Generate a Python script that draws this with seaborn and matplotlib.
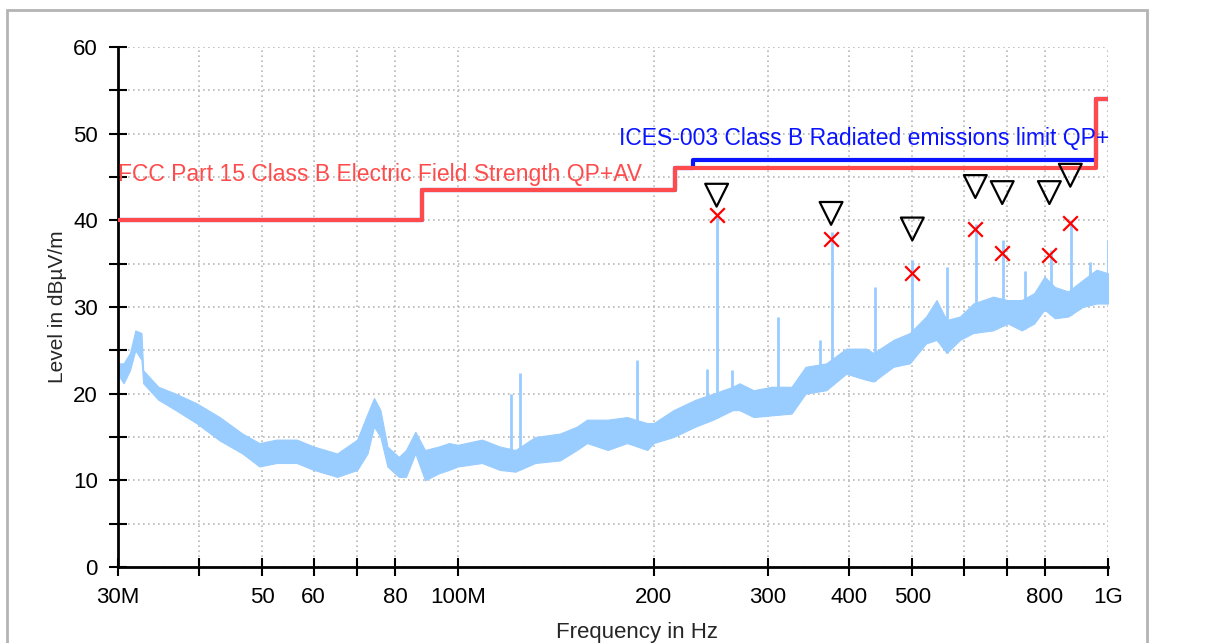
import numpy as np
import pandas as pd
import matplotlib
matplotlib.use("Agg")
import matplotlib.pyplot as plt
from matplotlib.patches import Rectangle
import seaborn as sns

# spectrum envelope (MHz, dBuV/m)
freq = [30, 30.6, 31.3, 31.9, 32.6, 32.8, 34.6, 36.8, 39.6, 43.0, 46.6, 49.5, 52.6, 56.5,
        60, 65.2, 70, 72.6, 74.3, 76, 77.9, 81.1, 83.2, 86, 89, 93.4, 96.9, 100, 108.9,
        116, 122.6, 131.5, 143.6, 152.4, 158, 170, 182, 195.6, 200, 214.6, 232, 247,
        264.7, 271, 285, 304, 326, 342.6, 368.7, 395.7, 424.7, 435.8, 467.6, 495.6, 525,
        544.8, 564.6, 592, 620.5, 665.6, 701, 736.6, 770, 798.5, 828.6, 868.7, 914, 960, 1000]
level_high = [23.5, 23.5, 24.7, 27.3, 27.0, 22.7, 20.8, 20.0, 18.9, 17.3, 15.4, 14.3, 14.7,
              14.7, 13.9, 13.1, 14.7, 17.7, 19.5, 18.1, 13.9, 12.7, 13.5, 15.6, 13.5, 13.9,
              14.3, 14.1, 14.7, 13.9, 13.5, 15.0, 15.4, 16.2, 17.0, 17.0, 17.3, 16.6, 16.6,
              18.1, 19.3, 20.0, 20.8, 21.2, 20.4, 20.8, 20.8, 23.1, 23.5, 25.2, 25.2, 24.7,
              26.2, 27.0, 28.9, 30.8, 28.5, 28.9, 30.4, 31.2, 30.8, 30.8, 31.6, 33.5, 32.3,
              31.8, 33.1, 34.3, 33.9]
level_low = [22.2, 21.2, 22.7, 25.0, 23.9, 21.2, 19.3, 18.1, 16.6, 14.6, 13.1, 11.6, 12.0,
             12.0, 11.2, 10.4, 11.2, 13.1, 16.2, 15.0, 11.6, 10.4, 10.4, 13.1, 10.0, 10.8,
             11.2, 11.6, 12.0, 11.2, 11.0, 12.0, 12.3, 13.5, 14.3, 13.5, 14.3, 13.5, 14.3,
             15.0, 16.2, 17.0, 18.1, 18.1, 17.3, 17.5, 17.7, 20.0, 20.4, 22.3, 21.6, 21.4,
             23.1, 23.5, 25.8, 26.2, 24.7, 26.2, 27.0, 27.3, 28.1, 27.3, 28.1, 29.7, 28.7,
             28.9, 30.0, 30.4, 30.4]

# narrow spurs standing above the noise
spur_freq = [120.5, 124.8, 188.6, 241.3, 250, 264, 311, 361, 376.5, 437.5, 500, 564.6, 626,
             689, 745, 817, 876, 939, 1000]
spur_top = [20.0, 22.4, 23.9, 22.9, 40.6, 22.7, 28.9, 26.2, 38.7, 32.3, 35.4, 34.6, 39.6,
            37.7, 34.1, 36.6, 40.0, 35.2, 37.7]

# final measurement markers
peak_freq = [250, 375, 500, 625, 687.5, 812.5, 875]
peak_level = [42.9, 40.8, 39.0, 43.9, 43.2, 43.2, 45.2]
final_level = [40.6, 37.8, 33.9, 39.0, 36.2, 36.0, 39.7]

# limit lines (step edges)
fcc_freq = [30, 88, 216, 960, 1000]
fcc_level = [40, 43.5, 46, 54, 54]
ices_freq = [30, 88, 216, 230, 960, 1000]
ices_level = [40, 43.5, 46, 47, 54, 54]

xticks = [30, 40, 50, 60, 70, 80, 100, 200, 300, 400, 500, 600, 700, 800, 1000]
xticklabels = ["30M", "", "50", "60", "", "80", "100M", "200", "300", "400", "500", "", "", "800", "1G"]

trace_c = "#99ccff"
red_c = "#ff4b4b"
blue_c = "#0a14ff"

sns.set_theme(style="white")
plt.rcParams["font.family"] = ["Liberation Sans", "DejaVu Sans"]

fig = plt.figure(figsize=(12.05, 6.43), dpi=100)
ax = fig.add_axes([118 / 1205, 76 / 643, 990 / 1205, 520 / 643])
ax.set_xscale("log")

# noise band + spurs
ax.fill_between(freq, level_low, level_high, color=trace_c, lw=0.8, edgecolor=trace_c, zorder=2)
spur_base = np.interp(np.log10(spur_freq), np.log10(freq), level_low)
ax.vlines(spur_freq, spur_base, spur_top, color=trace_c, lw=2, zorder=2)

ices = pd.DataFrame({"f": ices_freq, "v": ices_level})
fcc = pd.DataFrame({"f": fcc_freq, "v": fcc_level})
sns.lineplot(data=ices, x="f", y="v", ax=ax, color=blue_c, lw=3, drawstyle="steps-post", zorder=3)
sns.lineplot(data=fcc, x="f", y="v", ax=ax, color=red_c, lw=3, drawstyle="steps-post", zorder=4)

pk = pd.DataFrame({"f": peak_freq, "pk": peak_level, "fin": final_level})
sns.scatterplot(data=pk, x="f", y="pk", ax=ax, marker="v", s=270, facecolor="none",
                edgecolor="black", linewidth=1.6, zorder=5)
sns.scatterplot(data=pk, x="f", y="fin", ax=ax, marker="x", s=110, color="#ff0000",
                linewidth=1.6, zorder=5)

ax.text(30, 45.3, "FCC Part 15 Class B Electric Field Strength QP+AV", color=red_c,
        fontsize=16.5, va="center", ha="left", zorder=6)
ax.text(177, 49.5, "ICES-003 Class B Radiated emissions limit QP+", color=blue_c,
        fontsize=16.5, va="center", ha="left", zorder=6, clip_on=False)

ax.set_xlim(30, 1000)
ax.set_ylim(0, 60)
ax.set_xticks(xticks)
ax.set_xticklabels(xticklabels)
ax.minorticks_off()
ax.set_yticks(np.arange(0, 61, 5))
ax.set_yticklabels([str(v) if v % 10 == 0 else "" for v in range(0, 61, 5)])
ax.grid(True, color="#b8b8b8", linestyle=(0, (1, 2)), lw=1.2)
ax.tick_params(bottom=True, left=True, direction="inout", length=13, width=1.5,
               colors="black", labelsize=16, pad=8)
for s in ["top", "right"]:
    ax.spines[s].set_visible(False)
for s in ["left", "bottom"]:
    ax.spines[s].set_color("black")
    ax.spines[s].set_linewidth(2)

ax.set_xlabel("Frequency in Hz", fontsize=16)
ax.xaxis.set_label_coords(0.524, -0.105)
ax.set_ylabel("Level in dBµV/m", fontsize=15)
ax.yaxis.set_label_coords(-0.052, 0.5)

fig.patches.append(Rectangle((7 / 1205, -0.05), 1140 / 1205, 1.05 - 10 / 643, transform=fig.transFigure,
                             fill=False, edgecolor="#b4b4b4", lw=2, zorder=0))

fig.savefig("out.png", dpi=100, facecolor="white")
